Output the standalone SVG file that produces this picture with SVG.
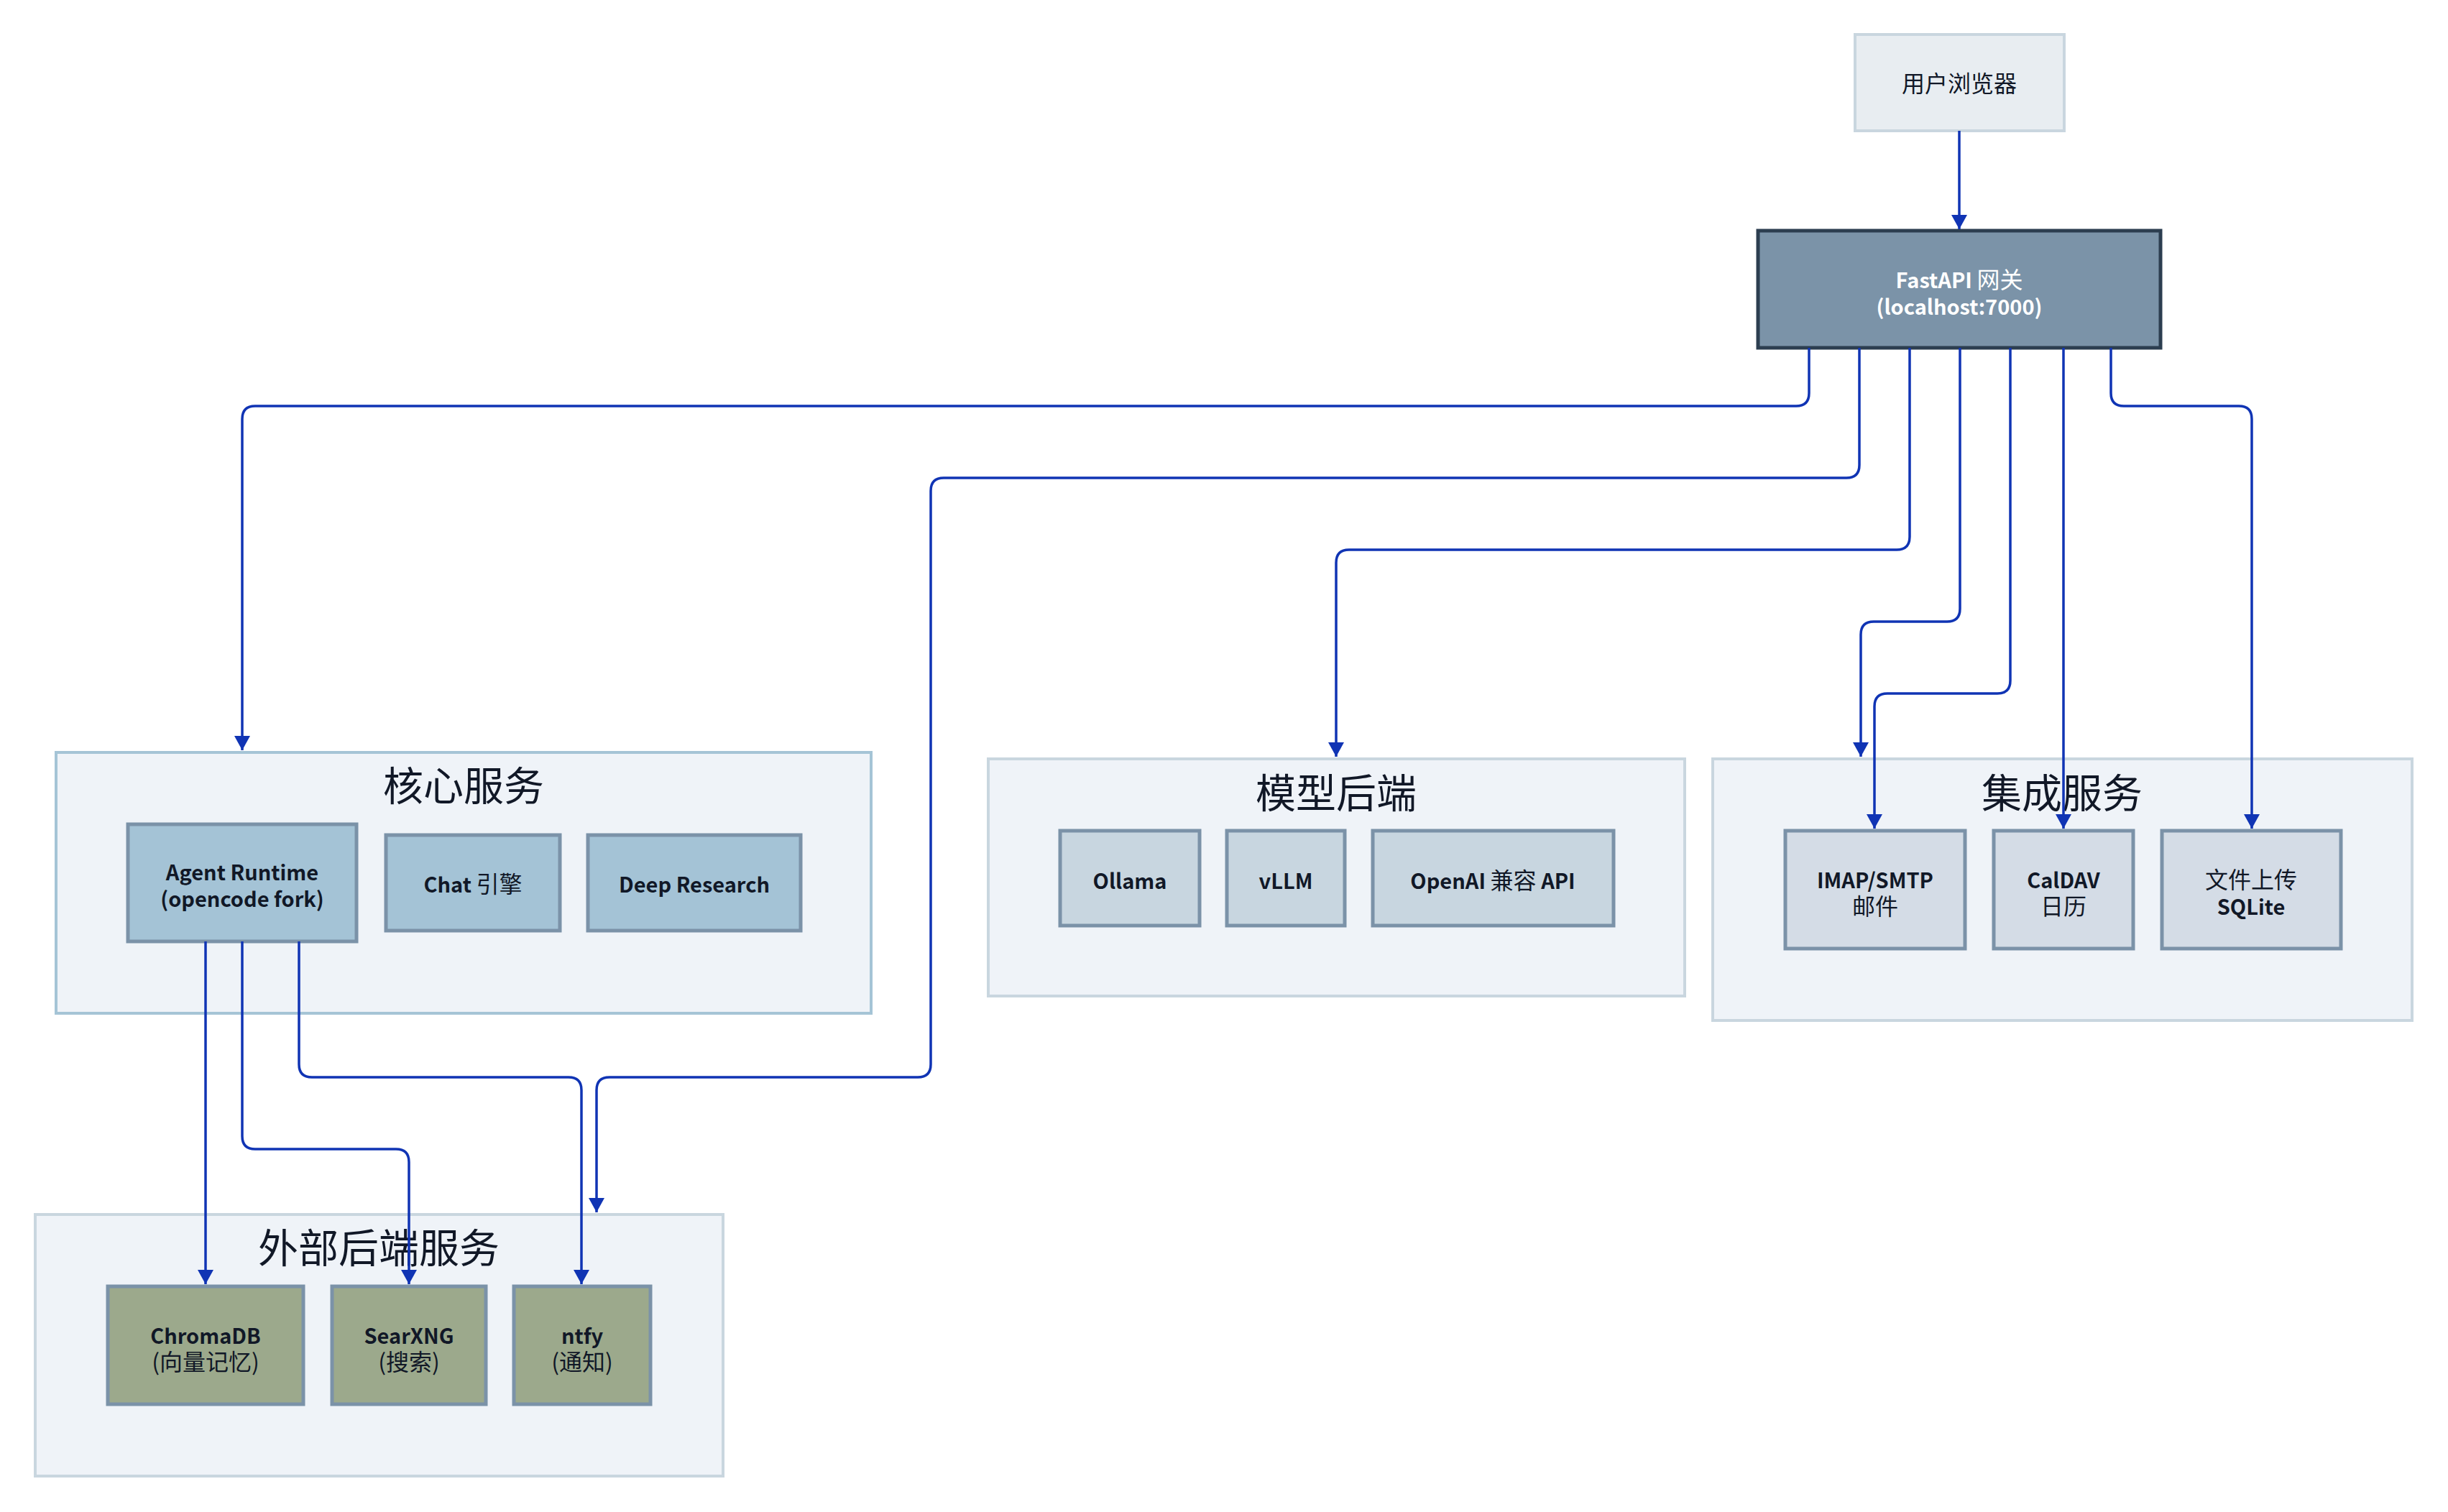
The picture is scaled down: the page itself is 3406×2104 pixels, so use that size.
<svg xmlns="http://www.w3.org/2000/svg" width="3406" height="2104" viewBox="0 0 3406 2104">
<defs>
<style>
text{font-family:"Noto Sans CJK SC","Noto Sans",sans-serif;fill:#111827;text-anchor:middle}
.title{font-size:56px;font-weight:400}
.lbl{font-size:29px;font-weight:700}
.reg{font-weight:400}
.cjk{font-weight:400;font-size:32px}
.cont{fill:#eff3f8;stroke:#c9d6df;stroke-width:4}
.cont-core{fill:#eff3f8;stroke:#a5c4d6;stroke-width:4}
.n-core{fill:#a4c3d6;stroke:#7b92a8;stroke-width:5}
.n-model{fill:#c8d6e0;stroke:#7b92a8;stroke-width:5}
.n-int{fill:#d4dce6;stroke:#7b92a8;stroke-width:5}
.n-ext{fill:#9ca98c;stroke:#7b92a8;stroke-width:5}
.edge{fill:none;stroke:#1034b4;stroke-width:3.5;marker-end:url(#ah)}
</style>
<marker id="ah" viewBox="0 0 20 22" refX="20" refY="11" markerWidth="20" markerHeight="22" markerUnits="userSpaceOnUse" orient="auto">
<path d="M0,0 L20,11 L0,22 z" fill="#1034b4"/>
</marker>
</defs>
<rect width="3406" height="2104" fill="#ffffff"/>

<g id="cluster-core">
<rect class="cont-core" x="78" y="1047" width="1134" height="363"/>
<text class="title" x="645" y="1114">核心服务</text>
</g>
<g id="cluster-model">
<rect class="cont" x="1375" y="1056" width="969" height="330"/>
<text class="title" x="1859" y="1124">模型后端</text>
</g>
<g id="cluster-integration">
<rect class="cont" x="2383" y="1056" width="973" height="364"/>
<text class="title" x="2869" y="1124">集成服务</text>
</g>
<g id="cluster-external">
<rect class="cont" x="49" y="1690" width="957" height="364"/>
<text class="title" x="527" y="1757">外部后端服务</text>
</g>

<g id="browser">
<rect x="2581" y="48" width="291" height="134" fill="#e8edf1" stroke="#c9d6df" stroke-width="4"/>
<text class="lbl cjk" x="2726" y="128">用户浏览器</text>
</g>
<g id="gateway">
<rect x="2446" y="321" width="560" height="163" fill="#7b93a8" stroke="#2c3e50" stroke-width="5"/>
<text class="lbl" x="2726" y="401" style="fill:#ffffff">FastAPI <tspan class="cjk">网关</tspan></text>
<text class="lbl" x="2726" y="438" style="fill:#ffffff">(localhost:7000)</text>
</g>

<g id="agent">
<rect class="n-core" x="178" y="1147" width="318" height="163"/>
<text class="lbl" x="337" y="1225">Agent Runtime</text>
<text class="lbl" x="337" y="1262">(opencode fork)</text>
</g>
<g id="chat">
<rect class="n-core" x="537" y="1162" width="242" height="133"/>
<text class="lbl" x="658" y="1242">Chat <tspan class="cjk">引擎</tspan></text>
</g>
<g id="deep">
<rect class="n-core" x="818" y="1162" width="296" height="133"/>
<text class="lbl" x="966" y="1242">Deep Research</text>
</g>

<g id="ollama">
<rect class="n-model" x="1475" y="1156" width="194" height="132"/>
<text class="lbl" x="1572" y="1237">Ollama</text>
</g>
<g id="vllm">
<rect class="n-model" x="1707" y="1156" width="164" height="132"/>
<text class="lbl" x="1789" y="1237">vLLM</text>
</g>
<g id="openai">
<rect class="n-model" x="1910" y="1156" width="335" height="132"/>
<text class="lbl" x="2077" y="1237">OpenAI <tspan class="cjk">兼容</tspan> API</text>
</g>

<g id="mail">
<rect class="n-int" x="2484" y="1156" width="250" height="164"/>
<text class="lbl" x="2609" y="1236">IMAP/SMTP</text>
<text class="lbl cjk" x="2609" y="1273">邮件</text>
</g>
<g id="caldav">
<rect class="n-int" x="2774" y="1156" width="194" height="164"/>
<text class="lbl" x="2871" y="1236">CalDAV</text>
<text class="lbl cjk" x="2871" y="1273">日历</text>
</g>
<g id="files">
<rect class="n-int" x="3008" y="1156" width="249" height="164"/>
<text class="lbl cjk" x="3132" y="1236">文件上传</text>
<text class="lbl" x="3132" y="1273">SQLite</text>
</g>

<g id="chromadb">
<rect class="n-ext" x="150" y="1790" width="272" height="164"/>
<text class="lbl" x="286" y="1870">ChromaDB</text>
<text class="lbl cjk" x="286" y="1907">(向量记忆)</text>
</g>
<g id="searxng">
<rect class="n-ext" x="462" y="1790" width="214" height="164"/>
<text class="lbl" x="569" y="1870">SearXNG</text>
<text class="lbl cjk" x="569" y="1907">(搜索)</text>
</g>
<g id="ntfy">
<rect class="n-ext" x="715" y="1790" width="190" height="164"/>
<text class="lbl" x="810" y="1870">ntfy</text>
<text class="lbl cjk" x="810" y="1907">(通知)</text>
</g>

<g id="connectors">
<path class="edge" d="M2726,182 V319"/>
<path class="edge" d="M2517,484 V547 Q2517,565 2499,565 H355 Q337,565 337,583 V1044"/>
<path class="edge" d="M2587,484 V647 Q2587,665 2569,665 H1313 Q1295,665 1295,683 V1481 Q1295,1499 1277,1499 H848 Q830,1499 830,1517 V1687"/>
<path class="edge" d="M2657,484 V747 Q2657,765 2639,765 H1877 Q1859,765 1859,783 V1053"/>
<path class="edge" d="M2727,484 V847 Q2727,865 2709,865 H2607 Q2589,865 2589,883 V1053"/>
<path class="edge" d="M2797,484 V947 Q2797,965 2779,965 H2626 Q2608,965 2608,983 V1153"/>
<path class="edge" d="M2871,484 V1153"/>
<path class="edge" d="M2937,484 V547 Q2937,565 2955,565 H3115 Q3133,565 3133,583 V1153"/>
<path class="edge" d="M286,1310 V1787"/>
<path class="edge" d="M337,1310 V1581 Q337,1599 355,1599 H551 Q569,1599 569,1617 V1787"/>
<path class="edge" d="M416,1310 V1481 Q416,1499 434,1499 H791 Q809,1499 809,1517 V1787"/>
</g>
</svg>
